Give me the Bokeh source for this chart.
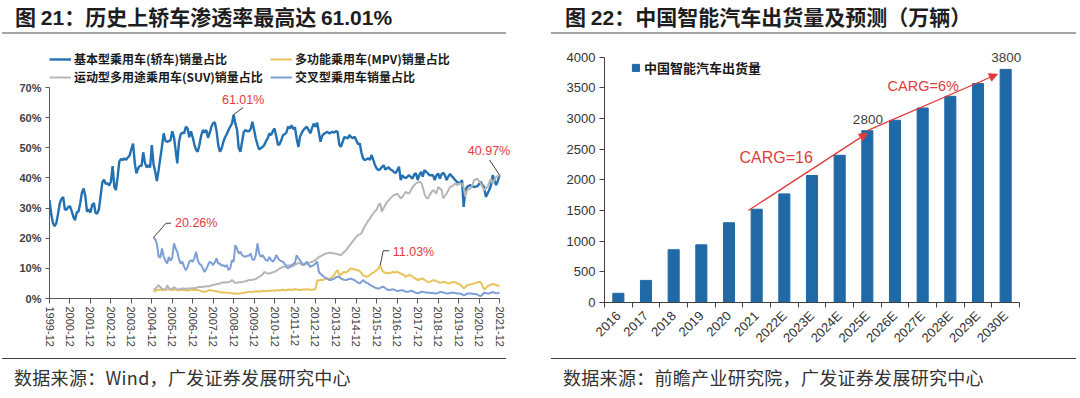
import math
import numpy as np
import pandas as pd
from bokeh.plotting import figure
from bokeh.models import (Div, Legend, LegendItem, Label, Arrow, NormalHead, FixedTicker,
                          Range1d, DatetimeTickFormatter, PrintfTickFormatter,
                          CustomJSTickFormatter)
from bokeh.layouts import row, column
from bokeh.embed import file_html
from bokeh.resources import INLINE

# ------------------------------------------------------------------ data (left)
sedan_start = "1999-12-01"
sedan_share = [
    32.6,
    28.0, 25.0, 24.0, 25.0, 28.0, 31.5, 33.0, 33.7, 29.5, 29.5, 30.4, 30.6,
    29.0, 27.0, 26.0, 28.6, 28.8, 31.5, 35.0, 36.5, 34.0, 28.8, 29.6, 28.5,
    31.0, 31.7, 28.4, 28.2, 29.5, 34.0, 38.5, 39.4, 38.0, 38.2, 37.5, 38.7,
    43.9, 37.0, 36.0, 40.4, 45.5, 46.3, 45.9, 46.5, 46.0, 46.8, 47.5, 49.5,
    51.4, 45.0, 41.5, 43.2, 44.0, 44.0, 48.5, 45.0, 43.5, 44.2, 43.5, 50.9,
    44.5, 42.0, 39.0, 42.5, 46.5, 50.5, 54.8, 52.3, 52.0, 52.2, 52.5, 55.5,
    53.5, 49.0, 44.8, 52.0, 54.5, 55.0, 54.8, 57.0, 56.4, 53.5, 55.5, 53.5,
    51.0, 49.2, 48.7, 51.0, 54.0, 55.9, 55.0, 55.9, 53.3, 55.0, 57.0, 58.2,
    58.4, 55.5, 50.9, 48.7, 49.8, 52.0, 53.5, 54.5, 55.9, 57.0, 58.0, 61.01,
    58.0, 55.9, 50.0, 48.7, 52.0, 55.3, 55.9, 55.5, 55.5, 56.2, 58.6, 56.0,
    53.0, 51.0, 49.5, 49.8, 50.3, 50.9, 52.2, 53.1, 54.8, 54.2, 55.5, 56.4,
    53.8, 50.9, 51.2, 52.5, 54.2, 54.5, 55.0, 57.0, 56.4, 57.5, 56.2, 56.8,
    53.0, 50.3, 53.7, 55.0, 55.9, 56.5, 57.0, 55.9, 54.8, 56.5, 58.0, 57.0,
    58.3, 55.0, 52.0, 54.0, 54.6, 55.0, 55.3, 54.8, 55.0, 55.3, 55.0, 55.5,
    55.3, 51.0, 50.3, 52.0, 53.5, 53.4, 53.1, 54.2, 53.5, 53.2, 53.7, 52.5,
    51.2, 51.4, 48.5, 46.5, 45.9, 46.2, 46.5, 46.0, 47.6, 45.9, 44.2, 43.1,
    42.6, 42.9, 43.6, 44.2, 42.8, 43.2, 43.5, 42.8, 42.5, 42.0, 41.6, 42.5,
    43.7, 39.3, 40.9, 40.2, 40.0, 40.4, 40.9, 40.3, 39.8, 41.2, 41.5, 39.3,
    41.0, 42.0, 40.4, 42.6, 42.0, 41.5, 40.9, 40.9, 40.9, 39.3, 40.8, 41.5,
    39.8, 41.2, 41.7, 40.9, 39.3, 40.5, 41.3, 40.6, 40.0, 39.3, 38.7, 38.4,
    38.2, 39.3, 30.4, 35.9, 37.0, 37.4, 37.6, 37.2, 37.0, 37.1, 37.2, 38.0,
    38.7, 37.5, 37.0, 33.7, 34.8, 36.0, 37.5, 40.9, 39.3, 37.6, 39.0, 40.97,
]

others_start = "2005-01-01"
mpv_share = [
    2.2, 2.5, 2.8, 2.9, 3.0, 2.8, 3.0, 2.9, 3.1, 3.0, 2.9, 2.8,
    2.9, 3.0, 2.8, 2.7, 2.8, 2.9, 2.8, 2.7, 2.6, 2.7, 3.0, 2.9,
    2.8, 2.9, 2.8, 2.6, 2.4, 2.3, 2.2, 2.4, 2.6, 2.8, 2.7, 2.6,
    2.5, 2.4, 2.3, 2.1, 2.0, 2.1, 2.0, 1.9, 1.9, 1.8, 1.7, 1.7,
    1.7, 1.7, 1.6, 1.7, 1.8, 1.9, 2.0, 2.1, 2.2, 2.2, 2.1, 2.3,
    2.4, 2.3, 2.4, 2.3, 2.5, 2.5, 2.4, 2.6, 2.5, 2.6, 2.7, 2.6,
    2.7, 2.8, 2.6, 2.8, 2.9, 2.8, 2.7, 3.0, 2.9, 2.8, 3.0, 3.1,
    3.0, 2.9, 2.8, 2.9, 3.0, 3.0, 3.1, 3.0, 2.9, 2.9, 3.0, 3.0,
    6.1, 6.0, 6.2, 6.1, 6.3, 6.5, 6.6, 6.4, 6.8, 7.2, 7.7, 8.8,
    9.4, 7.7, 8.0, 8.5, 8.8, 8.6, 9.0, 9.5, 10.0, 9.8, 9.6, 9.4,
    9.4, 9.0, 8.5, 7.7, 7.5, 7.2, 7.4, 7.8, 8.3, 8.6, 9.0, 9.4,
    10.0, 11.03, 9.5, 8.8, 8.5, 8.6, 8.3, 8.5, 8.7, 8.8, 8.6, 8.9,
    8.5, 8.3, 8.0, 7.8, 7.2, 7.5, 7.8, 7.7, 7.2, 6.8, 6.5, 6.1,
    6.3, 6.5, 6.6, 6.2, 5.8, 5.5, 5.5, 5.8, 6.1, 6.0, 5.7, 5.5,
    5.2, 5.3, 5.5, 5.5, 5.2, 5.0, 5.1, 5.3, 5.5, 5.4, 5.1, 4.8,
    4.6, 4.0, 3.3, 3.8, 4.4, 4.5, 4.7, 4.8, 5.0, 5.2, 5.4, 5.5,
    5.3, 4.2, 3.0, 3.5, 4.0, 4.4, 4.6, 4.8, 4.7, 4.5, 4.3, 4.1,
]
suv_share = [
    2.8, 3.2, 3.8, 4.4, 3.8, 3.3, 3.0, 2.8, 4.4, 3.5, 3.0, 3.3,
    3.7, 3.4, 3.0, 3.1, 3.2, 3.3, 3.3, 3.1, 3.3, 3.3, 3.3, 3.4,
    3.5, 3.6, 3.7, 3.9, 3.8, 3.9, 4.0, 4.0, 4.1, 4.1, 4.3, 4.5,
    4.6, 4.8, 4.9, 5.0, 5.2, 5.3, 5.3, 5.4, 5.5, 5.6, 6.1, 5.6,
    5.2, 5.2, 5.4, 5.4, 5.5, 5.6, 5.7, 5.9, 6.1, 6.1, 6.2, 6.3,
    6.5, 6.8, 7.2, 7.5, 8.0, 8.8, 8.5, 8.3, 8.3, 8.5, 8.7, 8.8,
    9.2, 9.5, 10.0, 10.2, 10.5, 10.5, 10.8, 11.1, 10.8, 10.5, 10.8, 11.2,
    11.5, 11.8, 11.6, 11.3, 11.1, 11.3, 11.6, 11.8, 12.0, 12.2, 12.4, 12.8,
    13.2, 13.8, 14.0, 14.3, 14.6, 14.9, 15.0, 15.1, 15.2, 15.0, 14.9, 14.9,
    14.7, 14.5, 14.4, 15.0, 15.5, 16.0, 16.8, 17.5, 18.3, 19.0, 19.8, 20.5,
    21.0, 21.3, 21.6, 22.8, 24.0, 24.9, 25.8, 26.5, 27.5, 28.2, 29.0, 29.5,
    31.0, 31.5, 28.8, 30.0, 31.0, 32.1, 32.5, 33.2, 33.8, 34.3, 34.5, 34.8,
    34.0, 33.2, 33.7, 34.5, 35.4, 35.0, 34.8, 35.8, 37.0, 37.6, 38.2, 38.5,
    38.7, 38.5, 37.0, 34.8, 33.5, 33.2, 34.3, 35.2, 36.0, 35.5, 34.8, 37.0,
    36.5, 36.0, 33.2, 34.0, 34.8, 35.8, 37.0, 37.2, 37.6, 38.2, 37.6, 38.0,
    38.2, 38.0, 37.0, 33.7, 35.9, 36.2, 36.5, 37.5, 39.3, 39.5, 39.8, 38.8,
    38.2, 37.0, 35.9, 36.5, 37.0, 38.5, 39.8, 38.2, 39.2, 40.4, 40.6, 40.9,
]
cross_share = [
    20.26, 19.5, 18.3, 14.0, 13.5, 16.6, 14.0, 12.5, 11.6, 13.8, 12.5, 13.5,
    18.3, 16.5, 15.5, 13.0, 11.6, 12.2, 10.5, 9.4, 10.5, 12.2, 12.7, 12.2,
    13.5, 15.5, 12.7, 11.5, 11.1, 10.0, 8.8, 9.8, 11.1, 12.2, 11.8, 11.1,
    12.0, 13.3, 11.5, 11.6, 10.8, 11.1, 10.5, 11.1, 9.4, 10.0, 12.7, 12.2,
    17.7, 16.5, 14.9, 15.5, 14.4, 14.0, 13.8, 14.2, 14.2, 14.9, 13.0, 12.7,
    14.4, 18.3, 15.0, 13.8, 14.4, 13.5, 12.7, 12.5, 13.8, 12.8, 12.2, 13.0,
    14.4, 13.4, 12.7, 12.4, 12.2, 11.5, 10.5, 10.0, 10.6, 11.1, 11.4, 11.8,
    14.4, 13.3, 12.7, 11.8, 11.1, 11.6, 12.2, 11.2, 10.5, 10.8, 11.1, 11.6,
    12.2, 8.8, 8.2, 7.7, 7.2, 6.8, 6.6, 6.2, 6.1, 6.4, 6.6, 7.0,
    7.2, 7.2, 6.6, 6.4, 6.2, 6.1, 6.3, 6.5, 6.6, 6.3, 6.1, 5.6,
    5.3, 5.0, 5.5, 6.1, 5.6, 5.2, 5.0, 4.5, 4.2, 3.9, 3.6, 3.4,
    3.3, 3.5, 3.8, 3.9, 3.4, 3.0, 2.8, 2.9, 3.0, 3.0, 2.7, 2.5,
    2.6, 2.7, 2.8, 2.5, 2.3, 2.2, 2.3, 2.5, 2.5, 2.1, 1.9, 1.7,
    1.9, 2.2, 2.2, 2.1, 2.0, 1.9, 1.9, 1.8, 1.8, 1.7, 1.7, 1.9,
    2.1, 2.2, 2.0, 1.8, 1.7, 1.7, 1.8, 1.9, 1.9, 1.8, 1.7, 1.7,
    1.6, 1.4, 1.1, 1.3, 1.6, 1.7, 1.7, 1.6, 1.5, 1.5, 1.3, 1.0,
    0.8, 1.4, 1.9, 1.8, 1.7, 1.7, 1.9, 2.2, 1.9, 1.7, 1.8, 1.9,
]
left_tick_labels = [f"{y}-12" for y in range(1999, 2022)]
left_series_names = ["基本型乘用车(轿车)销量占比", "多功能乘用车(MPV)销量占比",
                     "运动型多用途乘用车(SUV)销量占比", "交叉型乘用车销量占比"]

# ------------------------------------------------------------------ data (right)
years = ["2016", "2017", "2018", "2019", "2020", "2021", "2022E", "2023E", "2024E",
         "2025E", "2026E", "2027E", "2028E", "2029E", "2030E"]
shipments = [150, 360, 860, 940, 1300, 1520, 1770, 2070, 2400, 2800, 2970, 3170, 3360, 3570, 3800]
right_series_name = "中国智能汽车出货量"
cagr_texts = ["CARG=16", "CARG=6%"]

# ------------------------------------------------------------------ style
CJK = "Noto Sans CJK SC"
LAT = "Liberation Sans"
RED = "#e03c3c"
C_SED = "#2371b3"
C_MPV = "#e8c35c"
C_SUV = "#b6b6b6"
C_CRS = "#7d9fd6"
C_BAR = "#1f69a6"
AX = "#595959"
PANEL_W = 540
FIG_H = 320


def style_fig(p):
    p.grid.visible = False
    p.outline_line_color = None
    p.background_fill_color = "white"
    p.border_fill_color = "white"


def style_axis(a, color, tick_out=4):
    a.major_tick_out = tick_out
    a.major_tick_in = 0
    a.minor_tick_out = 0
    a.minor_tick_in = 0
    a.axis_line_color = color
    a.major_tick_line_color = color


# ------------------------------------------------------------------ left chart
d_sed = pd.date_range(sedan_start, periods=len(sedan_share), freq="MS")
d_oth = pd.date_range(others_start, periods=len(suv_share), freq="MS")
ms0 = d_sed[0].value / 1e6
ms_last = d_sed[-1].value / 1e6
PX_SPAN1 = 450                       # pixels between first and last tick
MS_PER_PX = (ms_last - ms0) / PX_SPAN1
EXTRA_R = 12                         # frame room right of last tick for the end label
H70 = 211                            # pixels from 0% to 70%
EXTRA_T = 38                         # frame room above 70% for the legend
PCT_PER_PX = 70 / H70
BOT1 = 58
p1 = figure(width=PANEL_W, height=FIG_H, x_axis_type="datetime",
            x_range=Range1d(ms0, ms_last + EXTRA_R * MS_PER_PX),
            y_range=Range1d(0, 70 + EXTRA_T * PCT_PER_PX),
            output_backend="svg", toolbar_location=None,
            min_border_left=49, min_border_right=PANEL_W - 49 - PX_SPAN1 - EXTRA_R,
            min_border_top=FIG_H - BOT1 - H70 - EXTRA_T, min_border_bottom=BOT1)
style_fig(p1)

r_sed = p1.line(d_sed, sedan_share, line_color=C_SED, line_width=2.4)
r_mpv = p1.line(d_oth, mpv_share, line_color=C_MPV, line_width=2)
r_suv = p1.line(d_oth, suv_share, line_color=C_SUV, line_width=2)
r_crs = p1.line(d_oth, cross_share, line_color=C_CRS, line_width=2)

tick_ms = [pd.Timestamp(lbl + "-01").value / 1e6 for lbl in left_tick_labels]
ax = p1.xaxis[0]
ax.ticker = FixedTicker(ticks=tick_ms)
fmt = "%Y-%m"
ax.formatter = DatetimeTickFormatter(milliseconds=fmt, seconds=fmt, minsec=fmt, minutes=fmt,
                                     hourmin=fmt, hours=fmt, days=fmt, months=fmt, years=fmt)
ax.bounds = (tick_ms[0], tick_ms[-1])
ax.major_label_orientation = "vertical"
ax.major_label_text_font = LAT
ax.major_label_text_font_size = "11px"
ax.major_label_text_color = "#404040"
ax.major_label_standoff = 3
style_axis(ax, AX, 5)

ay = p1.yaxis[0]
ay.ticker = FixedTicker(ticks=list(range(0, 71, 10)))
ay.bounds = (0, 70)
ay.formatter = PrintfTickFormatter(format="%d%%")
ay.major_label_text_font = LAT
ay.major_label_text_font_size = "11px"
ay.major_label_text_font_style = "bold"
ay.major_label_text_color = "#404040"
ay.major_label_standoff = 4
style_axis(ay, AX, 4)


def dx1(px):
    return px * MS_PER_PX


def dy1(px):
    return px * PCT_PER_PX


def ms(ts):
    return pd.Timestamp(ts).value / 1e6


LEAD = "#404040"
lab_kw = dict(text_font=LAT, text_font_size="12.5px", text_color=RED)

i = int(np.argmax(sedan_share))
px_, pv_ = ms(d_sed[i]), sedan_share[i]
p1.line([px_, px_ + dx1(9.5)], [pv_, pv_ + dy1(7)], line_color=LEAD, line_width=1)
p1.add_layout(Label(x=px_ + dx1(9.5), y=pv_ + dy1(7), text=f"{pv_:.2f}%", text_align="center",
                    text_baseline="middle", y_offset=8, **lab_kw))

cx_, cv_ = ms(d_oth[0]), cross_share[0]
p1.line([cx_, cx_ + dx1(12.5), cx_ + dx1(17.5)], [cv_, cv_ + dy1(14.2), cv_ + dy1(14.2)],
        line_color=LEAD, line_width=1)
p1.add_layout(Label(x=cx_ + dx1(21.5), y=cv_ + dy1(14.2), text=f"{cv_:.2f}%", text_align="left",
                    text_baseline="middle", **lab_kw))

j = int(np.argmax(mpv_share))
mx_, mv_ = ms(d_oth[j]), mpv_share[j]
p1.line([mx_, mx_ + dx1(3), mx_ + dx1(9)], [mv_, mv_ + dy1(14.5), mv_ + dy1(14.5)],
        line_color=LEAD, line_width=1)
p1.add_layout(Label(x=mx_ + dx1(12.5), y=mv_ + dy1(13.5), text=f"{mv_:.2f}%", text_align="left",
                    text_baseline="middle", **lab_kw))

ex_, ev_ = ms(d_sed[-1]), sedan_share[-1]
p1.line([ex_, ex_ - dx1(10)], [ev_, ev_ + dy1(15)], line_color=LEAD, line_width=1)
p1.add_layout(Label(x=ex_ - dx1(10.5), y=ev_ + dy1(15), text=f"{ev_:.2f}%", text_align="center",
                    text_baseline="middle", y_offset=9, **lab_kw))

leg_kw = dict(glyph_width=22, glyph_height=14, label_height=14, spacing=1, label_standoff=3,
              padding=0, margin=0, border_line_color=None, background_fill_alpha=0,
              label_text_font=CJK, label_text_font_style="bold", label_text_font_size="12px",
              label_text_color="#1a1a1a")
LEG_BOTTOM = H70 + 2                 # legend bottom, pixels above the 0% line
leg_a = Legend(items=[LegendItem(label=left_series_names[0], renderers=[r_sed]),
                      LegendItem(label=left_series_names[2], renderers=[r_suv])],
               location=(0, LEG_BOTTOM), **leg_kw)
leg_b = Legend(items=[LegendItem(label=left_series_names[1], renderers=[r_mpv]),
                      LegendItem(label=left_series_names[3], renderers=[r_crs])],
               location=(221, LEG_BOTTOM), **leg_kw)
p1.add_layout(leg_a)
p1.add_layout(leg_b)

# ------------------------------------------------------------------ right chart
n = len(years)
xc = np.arange(n) + 0.5
CAT_PX = 27.67
EXTRA_R2 = 4
Y_TOP = 4140
FH2 = 254
BOT2 = 54
p2 = figure(width=PANEL_W, height=FIG_H,
            x_range=Range1d(0, n + EXTRA_R2 / CAT_PX), y_range=Range1d(0, Y_TOP),
            output_backend="svg", toolbar_location=None,
            min_border_left=64, min_border_right=PANEL_W - 64 - round(n * CAT_PX) - EXTRA_R2,
            min_border_top=FIG_H - BOT2 - FH2, min_border_bottom=BOT2)
style_fig(p2)
bars = p2.vbar(x=xc, top=shipments, width=0.4, fill_color=C_BAR, line_color=C_BAR)

bx = p2.xaxis[0]
bx.ticker = FixedTicker(ticks=list(xc), minor_ticks=list(range(n + 1)))
bx.bounds = (0, n)
bx.formatter = CustomJSTickFormatter(args=dict(labels=years),
                                     code="return labels[Math.floor(tick)];")
bx.major_label_orientation = math.pi / 4
bx.major_label_text_font = LAT
bx.major_label_text_font_size = "13px"
bx.major_label_text_color = "#333333"
bx.major_label_standoff = 6
bx.major_tick_out = 0
bx.major_tick_in = 0
bx.major_tick_line_color = None
bx.minor_tick_out = 5
bx.minor_tick_in = 0
bx.minor_tick_line_color = "#404040"
bx.axis_line_color = "#404040"

by = p2.yaxis[0]
by.ticker = FixedTicker(ticks=list(range(0, 4001, 500)))
by.bounds = (0, 4000)
by.major_label_text_font = LAT
by.major_label_text_font_size = "13px"
by.major_label_text_color = "#333333"
by.major_label_standoff = 4
style_axis(by, "#404040", 5)

leg2 = Legend(items=[LegendItem(label=right_series_name, renderers=[bars])],
              location=(27, FH2 - 29), glyph_width=9, glyph_height=9, label_height=16,
              label_standoff=4, padding=0, margin=0, border_line_color=None,
              background_fill_alpha=0, label_text_font=CJK, label_text_font_style="bold",
              label_text_font_size="13px", label_text_color="#1a1a1a")
p2.add_layout(leg2)

i21 = years.index("2021")
i25 = years.index("2025E")
i30 = years.index("2030E")
p2.add_layout(Arrow(end=NormalHead(size=8, fill_color=RED, line_color=RED, line_width=1),
                    x_start=xc[i21] - 0.3, y_start=shipments[i21] - 20,
                    x_end=xc[i25], y_end=shipments[i25] - 40,
                    line_color=RED, line_width=1.3))
p2.add_layout(Arrow(end=NormalHead(size=8, fill_color=RED, line_color=RED, line_width=1),
                    x_start=xc[i25], y_start=shipments[i25],
                    x_end=xc[i30] - 0.3, y_end=shipments[i30] - 80,
                    line_color=RED, line_width=1.3))
p2.add_layout(Label(x=4.88, y=2365, text=cagr_texts[0], text_font=LAT, text_font_size="16px",
                    text_color=RED, text_baseline="middle", text_align="left"))
p2.add_layout(Label(x=10.23, y=3528, text=cagr_texts[1], text_font=LAT, text_font_size="14.5px",
                    text_color=RED, text_baseline="middle", text_align="left"))
for k in (i25, i30):
    p2.add_layout(Label(x=xc[k] + 0.02, y=shipments[k], text=str(shipments[k]), text_font=LAT,
                        text_font_size="13.5px", text_color="#404040", text_align="center",
                        text_baseline="bottom", y_offset=7))


# ------------------------------------------------------------------ titles / footers
def title_div(html, rule_left, rule_w, pad):
    return Div(text=(f'<div style="margin:0 0 0 {rule_left}px;width:{rule_w}px;height:34px;'
                     f'box-sizing:border-box;border-bottom:2px solid #a5a5a5;padding:5px 0 0 {pad}px;'
                     f"font-family:'{CJK}';font-weight:bold;font-size:21px;line-height:22px;"
                     f'color:#1e1e1e;white-space:nowrap;">{html}</div>'),
               width=PANEL_W, height=36, margin=0)


def foot_div(text, rule_left, rule_w, pad):
    return Div(text=(f'<div style="margin:2px 0 0 {rule_left}px;width:{rule_w}px;height:38px;'
                     f'box-sizing:border-box;border-top:1px solid #404040;padding:7px 0 0 {pad}px;'
                     f"font-family:'{CJK}';font-size:18px;letter-spacing:0.3px;"
                     f'line-height:22px;color:#333333;white-space:nowrap;">{text}</div>'),
               width=PANEL_W, height=42, margin=0)


span = f"<span style=\"font-family:'{LAT}'\">"
t1 = title_div(f"图 {span}21</span>：历史上轿车渗透率最高达 {span}61.01%</span>", 2, 504, 13)
t2 = title_div(f"图 {span}22</span>：中国智能汽车出货量及预测（万辆）", 11, 525, 14)
f1 = foot_div("数据来源：Wind，广发证券发展研究中心", 2, 504, 12)
f2 = foot_div("数据来源：前瞻产业研究院，广发证券发展研究中心", 11, 525, 12)

layout = row(column(t1, p1, f1, margin=0), column(t2, p2, f2, margin=0), margin=0)
open("out.html", "w").write(file_html(layout, INLINE))
